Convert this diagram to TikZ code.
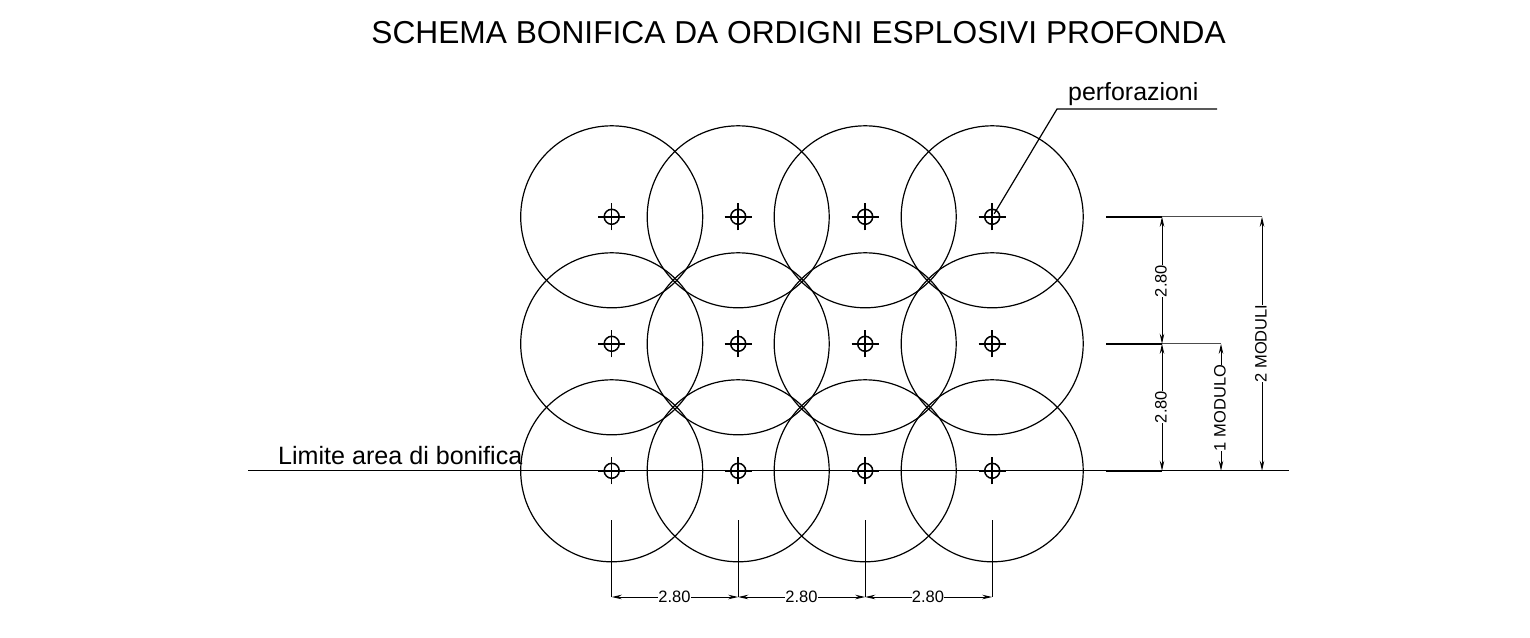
\documentclass[tikz,border=0pt]{standalone}
\usepackage{fontspec}
\setmainfont{Liberation Sans}
\usetikzlibrary{arrows.meta}
\tikzset{
  zone/.style={draw=black,line width=1.2pt,circle,minimum size=182pt,inner sep=0pt,outer sep=0pt},
  holemark/.style={draw=black,line width=1.5pt,circle,minimum size=15pt,inner sep=0pt,outer sep=0pt},
  thin line/.style={draw=black,line width=1.2pt},
  dimline/.style={draw=black,line width=1pt,{Stealth[length=10pt,width=4.5pt]}-{Stealth[length=10pt,width=4.5pt]}},
  dimtext/.style={font=\fontsize{16.5pt}{18pt}\selectfont,inner sep=0pt,fill=white,text=black},
  labeltext/.style={inner sep=0pt,text=black},
}
\begin{document}
\begin{tikzpicture}[x=1pt,y=-1pt]
\useasboundingbox (0,0) rectangle (1530,637);
\node[font=\fontsize{31.7pt}{34pt}\selectfont,inner sep=0pt,anchor=base] (title) at (798.5,43) {SCHEMA BONIFICA DA ORDIGNI ESPLOSIVI PROFONDA};
% circles and hole marks
\foreach \c/\x in {a/611.7,b/738.2,c/865.2,d/992.2}{
  \foreach \r/\y in {1/216.8,2/343.8,3/470.8}{
    \node[zone] (z\c\r) at (\x,\y) {};
    \node[holemark] (h\c\r) at (\x,\y) {};
    \draw[draw=black,line width=1.5pt] ([xshift=-13.5pt]h\c\r.center) -- ([xshift=13.5pt]h\c\r.center);
    \draw[draw=black,line width=1.5pt] ([yshift=-13.5pt]h\c\r.center) -- ([yshift=13.5pt]h\c\r.center);
  }
}
% limit line
\coordinate (limL) at (248,470.8);
\coordinate (limR) at (1289,470.8);
\draw[thin line] (limL) -- (limR);
\node[labeltext,font=\fontsize{25.1pt}{28pt}\selectfont,anchor=base west] (limite) at (278,464) {Limite area di bonifica};
% leader
\coordinate (leadA) at (1057,109);
\coordinate (leadB) at (1217,109);
\draw[thin line] (hd1.center) ++(2,-3) -- (leadA) -- (leadB);
\node[labeltext,font=\fontsize{24.9pt}{28pt}\selectfont,anchor=base west] (perf) at (1068,100) {perforazioni};
% right-hand extension lines
\coordinate (e1) at (1106,216.8);
\coordinate (e2) at (1106,343.8);
\coordinate (e3) at (1106,470.8);
\coordinate (d1t) at (1162,216.8);
\coordinate (d1m) at (1162,343.8);
\coordinate (d1b) at (1162,470.8);
\coordinate (d2t) at (1221,343.8);
\coordinate (d2b) at (1221,470.8);
\coordinate (d3t) at (1262,216.8);
\coordinate (d3b) at (1262,470.8);
\draw[draw=black,line width=1.8pt] (e1) -- (d1t);
\draw[draw=black,line width=1.8pt] (e2) -- (d1m);
\draw[draw=black,line width=1.8pt] (e3) -- (d1b);
\draw[draw=black!70,line width=1.2pt] (d1t) -- (d3t);
\draw[draw=black!70,line width=1.2pt] (d1m) -- (d2t);
% vertical dimensions
\draw[dimline] (d1t) -- (d1m);
\draw[dimline] (d1m) -- (d1b);
\draw[dimline] (d2t) -- (d2b);
\draw[dimline] (d3t) -- (d3b);
\node[dimtext,rotate=90] (v1) at (1161,281) {2.80};
\node[dimtext,rotate=90] (v2) at (1161,407) {2.80};
\node[dimtext,rotate=90] (v3) at (1220,408) {1 MODULO};
\node[dimtext,rotate=90] (v4) at (1261,343.5) {2 MODULI};
% bottom dimensions
\coordinate (b1t) at (611.7,520);
\coordinate (b2t) at (738.2,520);
\coordinate (b3t) at (865.2,520);
\coordinate (b4t) at (992.2,520);
\coordinate (b1) at (611.7,597);
\coordinate (b2) at (738.2,597);
\coordinate (b3) at (865.2,597);
\coordinate (b4) at (992.2,597);
\draw[thin line] (b1t) -- (b1);
\draw[thin line] (b2t) -- (b2);
\draw[thin line] (b3t) -- (b3);
\draw[thin line] (b4t) -- (b4);
\draw[dimline] (b1) -- (b2);
\draw[dimline] (b2) -- (b3);
\draw[dimline] (b3) -- (b4);
\node[dimtext] (h1) at (674.5,597) {2.80};
\node[dimtext] (h2) at (801.5,597) {2.80};
\node[dimtext] (h3) at (928,597) {2.80};
\end{tikzpicture}
\end{document}
